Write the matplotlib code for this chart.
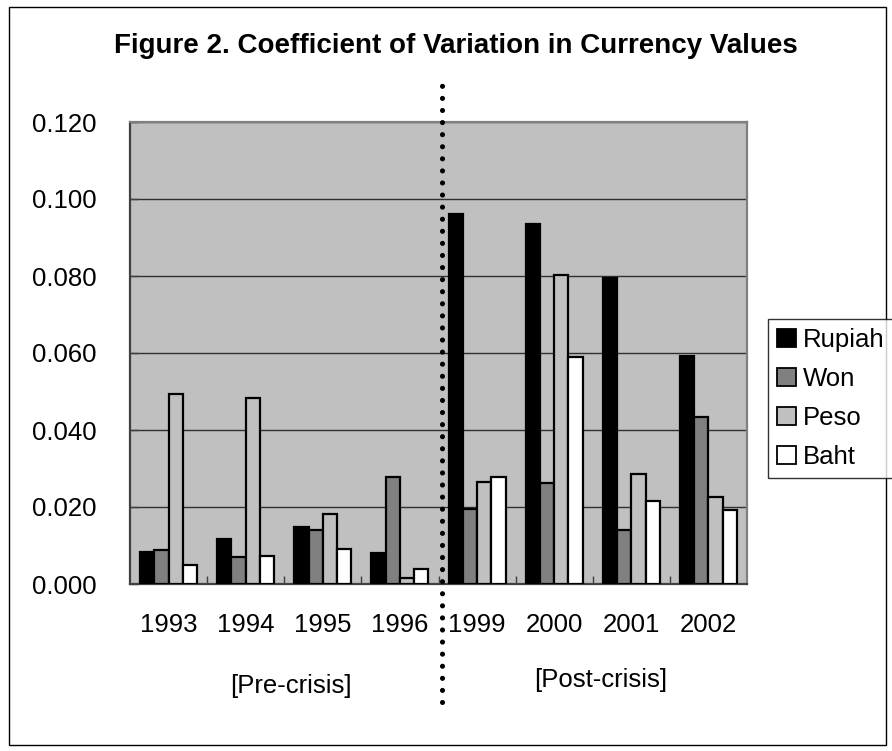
import numpy as np
import matplotlib
matplotlib.use('Agg')
import matplotlib.pyplot as plt
from matplotlib.patches import Rectangle

# data
years = ['1993', '1994', '1995', '1996', '1999', '2000', '2001', '2002']
currencies = ['Rupiah', 'Won', 'Peso', 'Baht']
rupiah = [0.0084, 0.0117, 0.0149, 0.0081, 0.0961, 0.0935, 0.0794, 0.0591]
won = [0.0088, 0.0069, 0.0141, 0.0279, 0.0196, 0.0263, 0.0139, 0.0435]
peso = [0.0493, 0.0482, 0.0183, 0.0015, 0.0264, 0.0802, 0.0286, 0.0227]
baht = [0.0050, 0.0074, 0.0090, 0.0040, 0.0277, 0.0589, 0.0216, 0.0192]
period_labels = ['[Pre-crisis]', '[Post-crisis]']

series = [rupiah, won, peso, baht]
colors = ['#000000', '#808080', '#C0C0C0', '#FFFFFF']

plt.rcParams['font.family'] = ['Liberation Sans', 'DejaVu Sans']

fig = plt.figure(figsize=(8.92, 7.51), dpi=100)
ax = fig.add_axes([130 / 892, 1 - 584 / 751, 617 / 892, 462 / 751])
ax.set_facecolor('#C0C0C0')

index = np.arange(len(years))
bar_width = 0.185
for i, (vals, name) in enumerate(zip(series, currencies)):
    ax.bar(index + (i - 1.5) * bar_width, vals, bar_width, color=colors[i],
           edgecolor='black', linewidth=1.6, label=name, zorder=3)

ax.set_xlim(-0.5, len(years) - 0.5)
ax.set_ylim(0, 0.12)
ax.set_yticks(np.arange(0, 0.1201, 0.02))
ax.set_yticklabels(['%.3f' % v for v in np.arange(0, 0.1201, 0.02)])
ax.yaxis.grid(True, color='#303030', linewidth=1.0, zorder=1)
ax.set_axisbelow(True)

ax.set_xticks(index)
ax.set_xticklabels(years)
ax.set_xticks(np.arange(0.5, len(years) - 0.5), minor=True)
ax.tick_params(axis='x', which='major', length=0, pad=21, labelsize=18.5)
ax.tick_params(axis='x', which='minor', direction='in', length=6, width=1, color='#404040')
ax.tick_params(axis='y', direction='in', length=6, width=1, color='#404040',
               pad=24, labelsize=18.5)

for side in ['left', 'bottom']:
    ax.spines[side].set_color('#404040')
    ax.spines[side].set_linewidth(1.6)
for side in ['top', 'right']:
    ax.spines[side].set_color('#808080')
    ax.spines[side].set_linewidth(1.6)

# dotted divider between pre- and post-crisis years
ax.axvline(3.55, ymin=-0.255, ymax=1.089, color='black', linewidth=3.7,
           linestyle=(0, (0.001, 2.35)), dash_capstyle='round', clip_on=False, zorder=5)

fig.text(291 / 892, 1 - 686 / 751, period_labels[0], ha='center', va='center', fontsize=18.5)
fig.text(601 / 892, 1 - 680 / 751, period_labels[1], ha='center', va='center', fontsize=18.5)

fig.text(456 / 892, 1 - 46 / 751, 'Figure 2. Coefficient of Variation in Currency Values',
         ha='center', va='center', fontsize=20, fontweight='bold')

leg = fig.legend(loc='upper left', bbox_to_anchor=(768 / 892, 1 - 319 / 751),
                 fontsize=18.5, frameon=True, fancybox=False, borderpad=0.35,
                 handlelength=0.75, handleheight=0.7, handletextpad=0.25,
                 labelspacing=0.58, borderaxespad=0)
leg.get_frame().set_edgecolor('black')
leg.get_frame().set_linewidth(1.0)
for h in leg.legend_handles:
    h.set_linewidth(1.3)

fig.patches.append(Rectangle((9 / 892, 1 - 745 / 751), 877 / 892, 738 / 751,
                             transform=fig.transFigure, fill=False,
                             edgecolor='black', linewidth=1.0))

fig.savefig('out.png', dpi=100)
